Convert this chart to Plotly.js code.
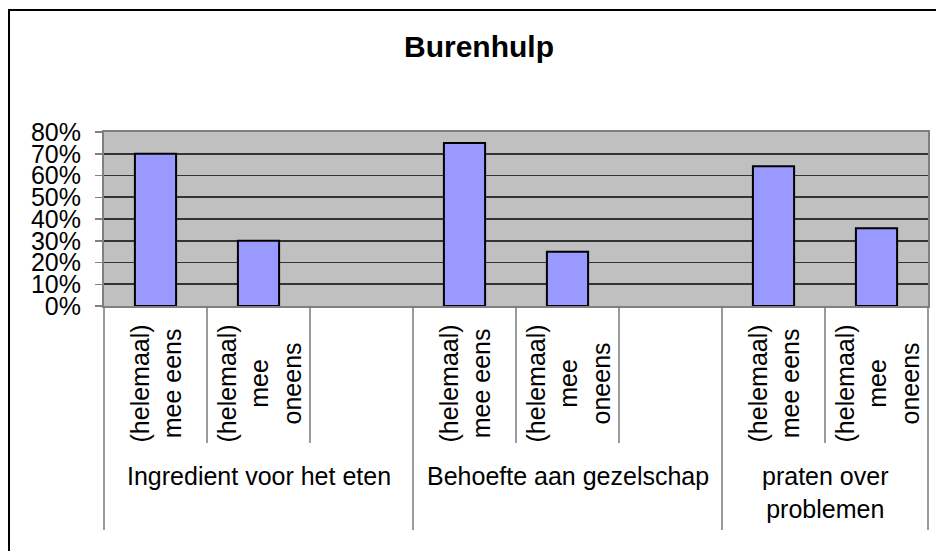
<!DOCTYPE html>
<html>
<head>
<meta charset="utf-8">
<script src="https://cdn.plot.ly/plotly-3.0.1.min.js"></script>
<style>
  html, body { margin: 0; padding: 0; background: #ffffff; }
  #chart { width: 936px; height: 551px; }
</style>
</head>
<body>
<div id="chart"></div>
<script>
// ---- data ----
const chartTitle = 'Burenhulp';
const groups = ['Ingredient voor het eten', 'Behoefte aan gezelschap', 'praten over problemen'];
const groupLabels = ['Ingredient voor het eten', 'Behoefte aan gezelschap', 'praten over<br>problemen'];
const answers = ['(helemaal) mee eens', '(helemaal) mee oneens'];
const answerLabels = ['(helemaal)<br>mee eens', '(helemaal)<br>mee<br>oneens'];
const meeEens = [0.70, 0.75, 0.643];
const meeOneens = [0.30, 0.25, 0.357];
const yTickFormat = '.0%';

// ---- build categories (an empty spacer slot after each group except the last) ----
const cats = [], vals = [], catLabels = [], groupSpans = [];
groups.forEach((g, gi) => {
  const start = cats.length;
  const groupVals = [meeEens[gi], meeOneens[gi]];
  answers.forEach((a, ai) => {
    cats.push(g + ' – ' + a);
    vals.push(groupVals[ai]);
    catLabels.push(answerLabels[ai]);
  });
  if (gi < groups.length - 1) {
    cats.push(g + ' – ');
    vals.push(null);
    catLabels.push('');
  }
  groupSpans.push([start, cats.length]);
});
const n = cats.length;

// ---- layout geometry ----
const W = 936, H = 551;
const mL = 104, mR = 8, mT = 132, mB = 245;
const plotW = W - mL - mR, plotH = H - mT - mB;
const pyToPaper = py => (H - mB - py) / plotH;
const pxToPaper = px => (px - mL) / plotW;

const font = 'Liberation Sans, Arial, sans-serif';
const innerBottom = pyToPaper(443);
const groupBottom = pyToPaper(530);

const shapes = [];
// inner dividers and group dividers
const groupBoundaries = new Set();
groupSpans.forEach(s => { groupBoundaries.add(s[0]); groupBoundaries.add(s[1]); });
for (let b = 0; b <= n; b++) {
  const isGroup = groupBoundaries.has(b);
  shapes.push({
    type: 'line', xref: 'paper', yref: 'paper',
    x0: b / n, x1: b / n, y0: 0, y1: isGroup ? groupBottom : innerBottom,
    line: { color: '#7a7a7a', width: 1.5 }
  });
}
// outer chart border
shapes.push({
  type: 'rect', xref: 'paper', yref: 'paper',
  x0: pxToPaper(9), x1: pxToPaper(945), y0: pyToPaper(10), y1: pyToPaper(560),
  line: { color: '#000000', width: 2 }, fillcolor: 'rgba(0,0,0,0)', layer: 'above'
});

const annotations = [];
cats.forEach((c, i) => {
  if (!catLabels[i]) return;
  annotations.push({
    xref: 'x', yref: 'paper', x: c, y: innerBottom,
    xanchor: 'center', yanchor: 'bottom', textangle: -90,
    text: catLabels[i], showarrow: false, align: 'center',
    borderpad: 0, borderwidth: 0,
    font: { family: font, size: 25, color: '#000000' }
  });
});
groupSpans.forEach((s, gi) => {
  annotations.push({
    xref: 'paper', yref: 'paper', x: (s[0] + s[1]) / 2 / n, y: pyToPaper(462),
    xanchor: 'center', yanchor: 'top',
    text: groupLabels[gi], showarrow: false, align: 'center',
    borderpad: 0, borderwidth: 0,
    font: { family: font, size: 25, color: '#000000' }
  });
});

const trace = {
  type: 'bar', x: cats, y: vals, width: 0.4,
  marker: { color: '#9999FF', line: { color: '#000000', width: 2 } },
  hoverinfo: 'y'
};

const layout = {
  width: W, height: H,
  margin: { l: mL, r: mR, t: mT, b: mB, pad: 0 },
  paper_bgcolor: '#ffffff',
  plot_bgcolor: '#C0C0C0',
  showlegend: false,
  title: {
    text: chartTitle,
    font: { family: font, size: 30, color: '#000000', weight: 'bold' },
    xref: 'container', yref: 'container',
    x: 479 / W, xanchor: 'center',
    y: 1 - 46 / H, yanchor: 'middle'
  },
  xaxis: {
    type: 'category', categoryorder: 'array', categoryarray: cats,
    range: [-0.5, n - 0.5],
    showticklabels: false, ticks: '', showgrid: false, zeroline: false,
    showline: true, mirror: true, linecolor: '#808080', linewidth: 2
  },
  yaxis: {
    range: [0, 0.8], dtick: 0.1, tick0: 0, tickformat: yTickFormat,
    showgrid: true, gridcolor: '#333333', gridwidth: 1.6, zeroline: false,
    showline: true, mirror: true, linecolor: '#808080', linewidth: 2,
    ticks: 'outside', ticklen: 7, tickcolor: '#808080', tickwidth: 1.5,
    ticklabelstandoff: 9,
    tickfont: { family: font, size: 25, color: '#000000' }
  },
  shapes: shapes,
  annotations: annotations
};

Plotly.newPlot('chart', [trace], layout, { staticPlot: true, displayModeBar: false });
</script>
</body>
</html>
